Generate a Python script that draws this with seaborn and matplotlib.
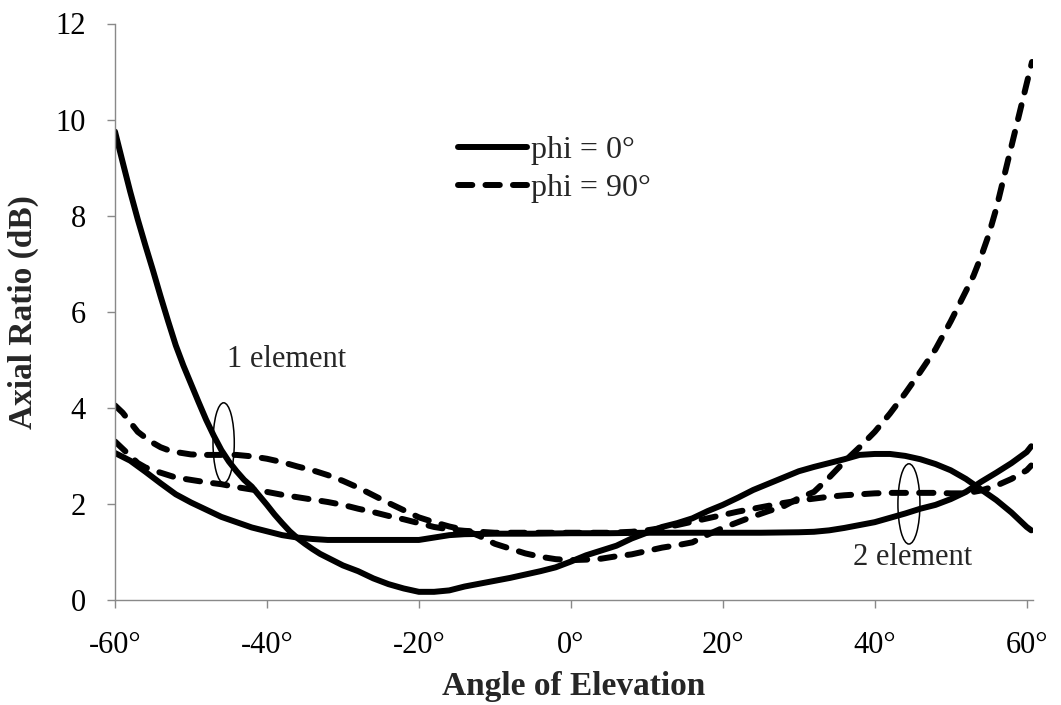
import numpy as np
import pandas as pd
import matplotlib
matplotlib.use("Agg")
import matplotlib.pyplot as plt
from matplotlib.lines import Line2D
from matplotlib.patches import Ellipse
import seaborn as sns

# ---------------- data ----------------
# 1 element, phi = 0 deg (solid)
a1_x = [-60, -59, -58, -57, -56, -55, -54, -53, -52, -51, -50, -49, -48, -47, -46, -45,
        -44, -43, -42, -41, -40, -39, -38, -37, -36, -35, -34, -33, -32, -31, -30, -28,
        -26, -24, -22, -20, -18, -16, -14, -12, -10, -8, -6, -4, -2, 0, 2, 4, 6, 8, 10,
        12, 14, 16, 18, 20, 22, 24, 26, 28, 30, 32, 34, 36, 38, 40, 42, 44, 46, 48, 50,
        52, 54, 56, 58, 60, 60.6]
a1_y = [9.75, 9.12, 8.5, 7.92, 7.38, 6.86, 6.32, 5.8, 5.3, 4.88, 4.5, 4.12, 3.75, 3.42,
        3.12, 2.88, 2.68, 2.5, 2.36, 2.17, 1.98, 1.78, 1.6, 1.43, 1.29, 1.17, 1.06, 0.96,
        0.88, 0.8, 0.72, 0.6, 0.45, 0.33, 0.24, 0.17, 0.17, 0.2, 0.28, 0.34, 0.4, 0.46,
        0.53, 0.6, 0.68, 0.8, 0.93, 1.03, 1.13, 1.28, 1.4, 1.52, 1.6, 1.7, 1.85, 1.98,
        2.13, 2.29, 2.42, 2.55, 2.68, 2.77, 2.85, 2.93, 3.02, 3.04, 3.04, 3.0, 2.93, 2.83,
        2.7, 2.52, 2.3, 2.08, 1.82, 1.52, 1.45]

# 2 element, phi = 0 deg (solid)
a2_x = [-60, -58, -56, -54, -52, -50, -48, -46, -44, -42, -40, -38, -36, -34, -32, -30,
        -25, -20, -18, -16, -14, -10, -5, 0, 5, 10, 15, 20, 25, 30, 32, 34, 36, 38, 40,
        42, 44, 46, 48, 50, 52, 54, 56, 58, 60, 60.6]
a2_y = [3.06, 2.9, 2.67, 2.43, 2.2, 2.03, 1.88, 1.73, 1.62, 1.51, 1.43, 1.35, 1.3, 1.27,
        1.25, 1.25, 1.25, 1.25, 1.3, 1.35, 1.37, 1.38, 1.38, 1.39, 1.39, 1.4, 1.4, 1.4,
        1.4, 1.41, 1.42, 1.45, 1.5, 1.56, 1.62, 1.71, 1.8, 1.9, 1.98, 2.1, 2.25, 2.46,
        2.65, 2.85, 3.08, 3.2]

# 1 element, phi = 90 deg (dashed)
b1_x = [-60, -59, -58, -57, -56, -55, -54, -53, -52, -50, -48, -46, -44, -42, -40, -38,
        -36, -34, -32, -30, -28, -26, -24, -22, -20, -18, -16, -14, -12, -10, -8, -6, -4,
        -2, 0, 2, 4, 6, 8, 10, 12, 14, 16, 18, 20, 22, 24, 26, 28, 30, 32, 34, 36, 38,
        40, 42, 44, 46, 48, 50, 52, 53, 54, 55, 56, 57, 58, 59, 60, 60.7]
b1_y = [4.05, 3.9, 3.7, 3.5, 3.38, 3.27, 3.18, 3.12, 3.08, 3.03, 3.02, 3.02, 3.02, 2.99,
        2.94, 2.87, 2.78, 2.7, 2.6, 2.48, 2.34, 2.18, 2.02, 1.87, 1.72, 1.62, 1.53, 1.46,
        1.33, 1.17, 1.07, 0.97, 0.9, 0.85, 0.83, 0.84, 0.86, 0.91, 0.95, 1.02, 1.09,
        1.14, 1.2, 1.36, 1.5, 1.62, 1.74, 1.85, 1.95, 2.12, 2.25, 2.55, 2.88, 3.18, 3.5,
        3.88, 4.3, 4.75, 5.22, 5.8, 6.43, 6.75, 7.15, 7.6, 8.15, 8.8, 9.45, 10.1, 10.75,
        11.2]

# 2 element, phi = 90 deg (dashed)
b2_x = [-60, -59, -58, -57, -56, -55, -54, -52, -50, -48, -46, -44, -42, -40, -38, -36,
        -34, -32, -30, -28, -26, -24, -22, -20, -18, -16, -14, -12, -10, -5, 0, 5, 8, 10,
        12, 14, 16, 18, 20, 22, 24, 26, 28, 30, 32, 34, 36, 38, 40, 42, 44, 46, 48, 50,
        52, 54, 56, 58, 60, 60.6]
b2_y = [3.3, 3.15, 3.0, 2.85, 2.76, 2.7, 2.65, 2.55, 2.5, 2.45, 2.41, 2.35, 2.3, 2.25,
        2.19, 2.14, 2.09, 2.04, 1.98, 1.9, 1.83, 1.75, 1.68, 1.6, 1.52, 1.47, 1.44, 1.42,
        1.4, 1.4, 1.4, 1.4, 1.42, 1.45, 1.5, 1.56, 1.63, 1.7, 1.77, 1.84, 1.9, 1.96,
        2.02, 2.07, 2.11, 2.15, 2.18, 2.2, 2.22, 2.23, 2.23, 2.23, 2.23, 2.22, 2.22, 2.28,
        2.38, 2.52, 2.7, 2.8]

x_ticks = [-60, -40, -20, 0, 20, 40, 60]
x_tick_labels = ["-60°", "-40°", "-20°", "0°", "20°", "40°", "60°"]
y_ticks = [0, 2, 4, 6, 8, 10, 12]
legend_labels = ["phi = 0°", "phi = 90°"]

# ---------------- build long-form table ----------------
frames = []
for xs, ys, phi, el in [(a1_x, a1_y, "0", "1"), (a2_x, a2_y, "0", "2"),
                        (b1_x, b1_y, "90", "1"), (b2_x, b2_y, "90", "2")]:
    frames.append(pd.DataFrame({"angle": xs, "ar": ys, "phi": phi, "element": el}))
df = pd.concat(frames, ignore_index=True)

# ---------------- style ----------------
sns.set_theme(style="white")
plt.rcParams["font.family"] = ["Liberation Serif", "DejaVu Serif"]

LW = 4.3
DASH = (2.4, 2.2)
GRAY = "#898989"

fig = plt.figure(figsize=(10.61, 7.05), dpi=100)
ax = fig.add_axes([115 / 1061, 1 - 600 / 705, (1033 - 115) / 1061, (600 - 23.5) / 705])

sns.lineplot(data=df, x="angle", y="ar", style="phi", units="element", estimator=None,
             sort=False, color="black", linewidth=LW,
             dashes={"0": "", "90": DASH}, legend=False, ax=ax,
             dash_capstyle="round", solid_capstyle="round", solid_joinstyle="round",
             dash_joinstyle="round")

ax.set_xlim(-60, 60.83)
ax.set_ylim(0, 12)
ax.set_xticks(x_ticks)
ax.set_xticklabels(x_tick_labels)
ax.set_yticks(y_ticks)

for side in ["top", "right"]:
    ax.spines[side].set_visible(False)
for side in ["left", "bottom"]:
    ax.spines[side].set_color(GRAY)
    ax.spines[side].set_linewidth(1.0)

ax.tick_params(axis="both", which="major", direction="out", length=6, width=1.0,
               color=GRAY, labelsize=22, labelcolor="black")
ax.tick_params(axis="x", pad=16, bottom=True)
ax.tick_params(axis="y", pad=15, left=True)

ax.set_xlabel("Angle of Elevation", fontsize=24, fontweight="bold", labelpad=8)
ax.set_ylabel("Axial Ratio (dB)", fontsize=24, fontweight="bold", labelpad=12)

# annotations
ax.text(-45.26, 4.85, "1 element", fontsize=22, ha="left", va="baseline")
ax.text(37.14, 0.73, "2 element", fontsize=22, ha="left", va="baseline")
ax.add_patch(Ellipse((-45.7, 3.27), 2.8, 1.67, fill=False, edgecolor="black", lw=1.1))
ax.add_patch(Ellipse((44.5, 2.0), 2.9, 1.67, fill=False, edgecolor="black", lw=1.1))

# legend
handles = [
    Line2D([], [], color="black", lw=LW, solid_capstyle="round"),
    Line2D([], [], color="black", lw=LW, dashes=DASH, dash_capstyle="round"),
]
fig.legend(handles, legend_labels, loc="upper left",
           bbox_to_anchor=(458 / 1061, 1 - 136 / 705), bbox_transform=fig.transFigure,
           frameon=False, fontsize=23, handlelength=2.15, handletextpad=0.15,
           labelspacing=0.25, borderpad=0, borderaxespad=0)

fig.savefig("out.png", dpi=100, facecolor="white")
